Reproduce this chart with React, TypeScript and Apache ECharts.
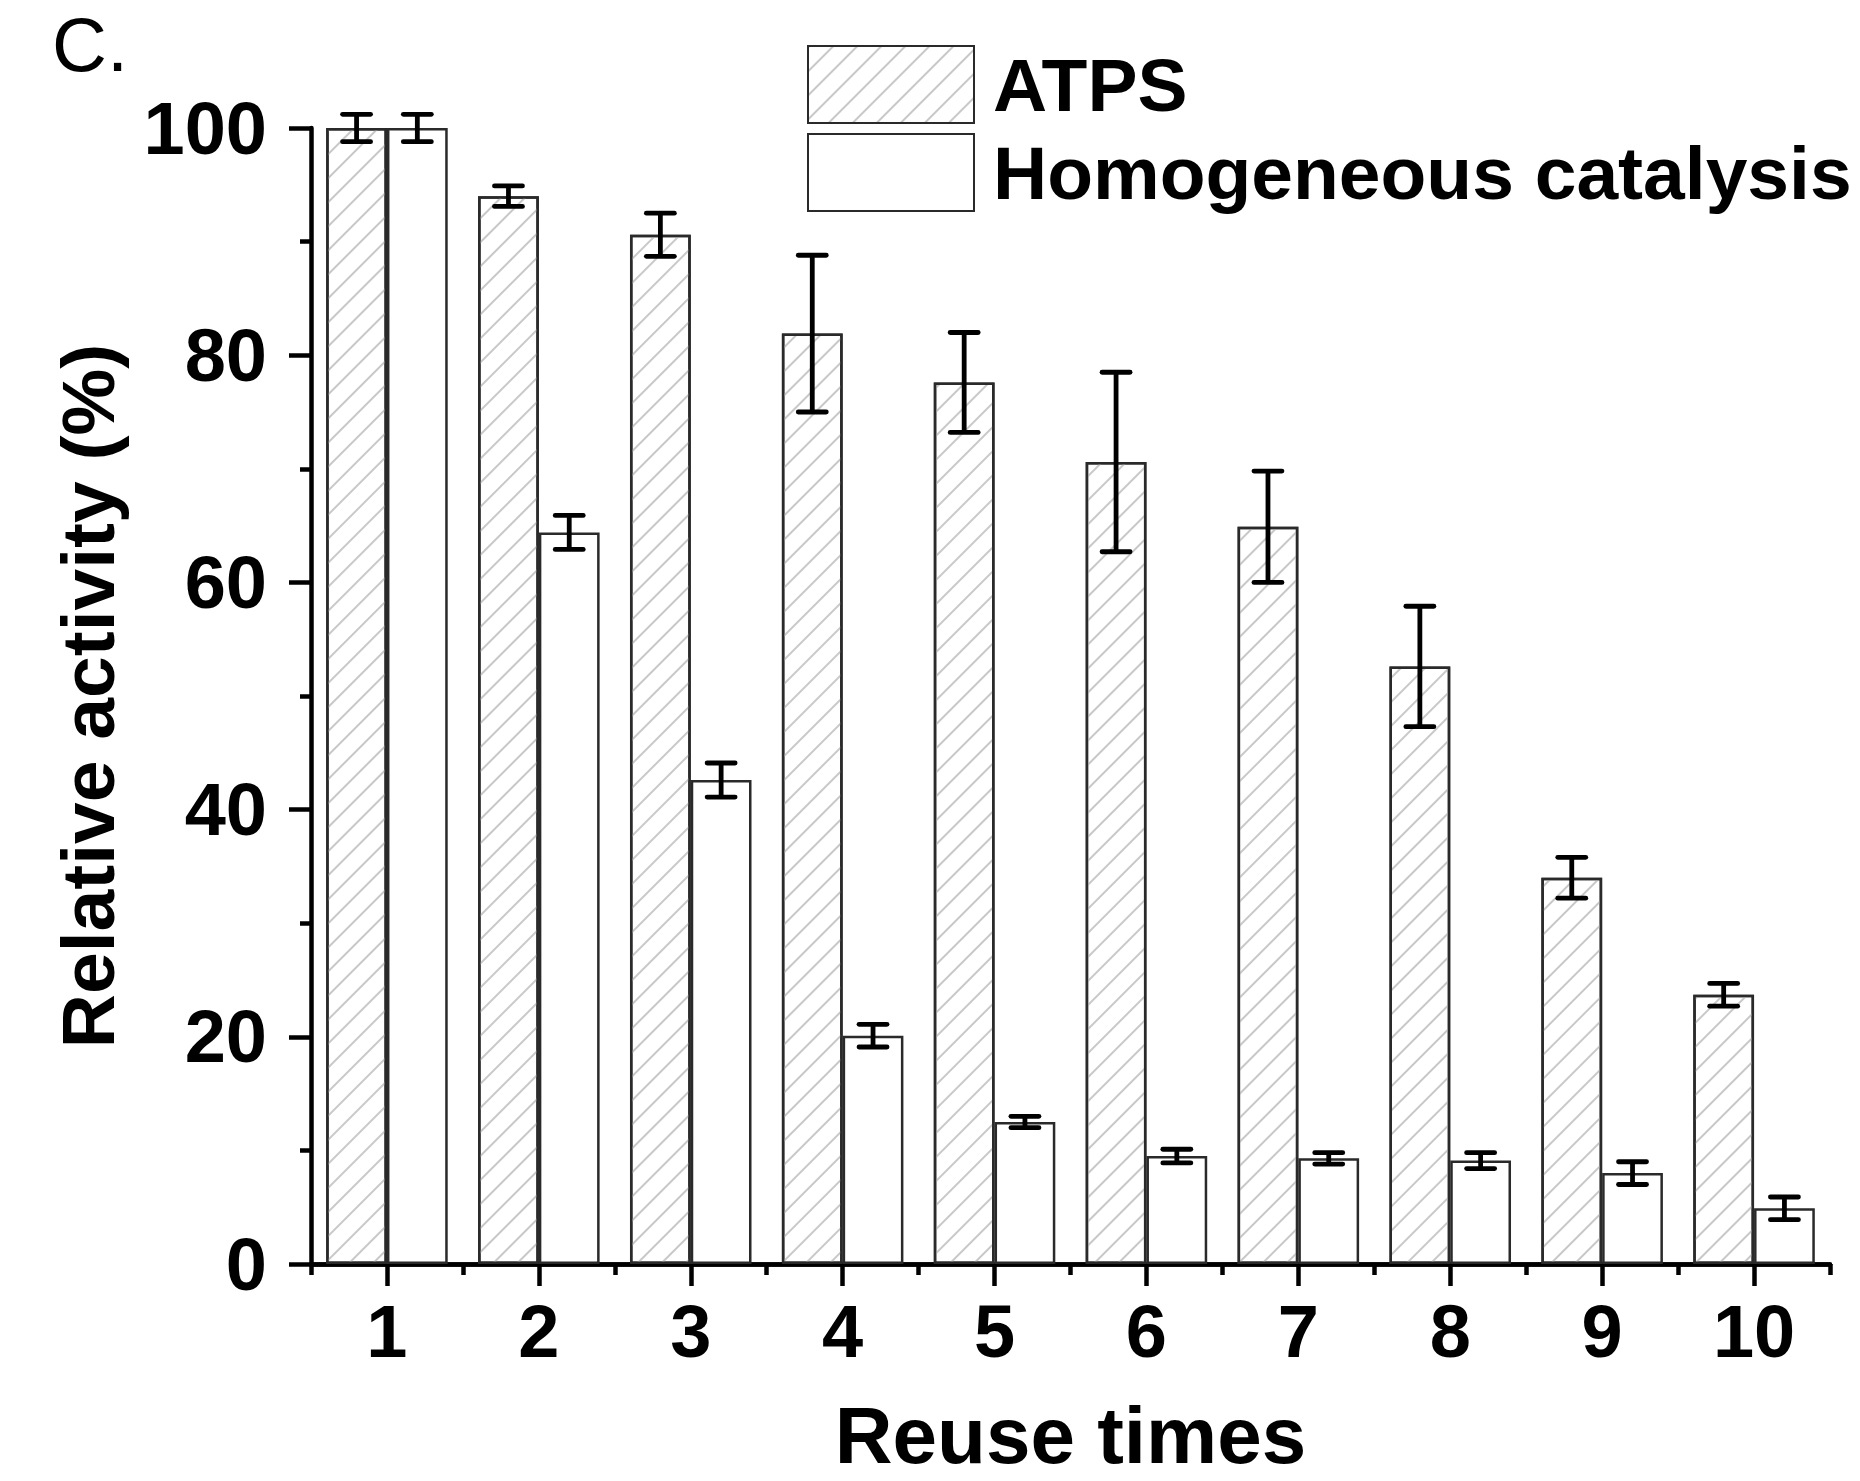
import React, { useEffect, useRef } from "react";
import * as echarts from "echarts";

const categories = ["1", "2", "3", "4", "5", "6", "7", "8", "9", "10"];
const seriesNames = ["ATPS", "Homogeneous catalysis"];
const atpsValues = [100, 94.0, 90.6, 81.9, 77.6, 70.6, 64.9, 52.6, 34.0, 23.7];
const atpsErrors = [1.2, 0.9, 1.9, 6.9, 4.4, 7.9, 4.9, 5.3, 1.8, 1.0];
const homoValues = [100, 64.4, 42.6, 20.1, 12.5, 9.5, 9.3, 9.1, 8.0, 4.9];
const homoErrors = [1.2, 1.5, 1.5, 1.0, 0.5, 0.6, 0.5, 0.7, 1.0, 1.0];
const panelLabel = "C.";
const xTitle = "Reuse times";
const yTitle = "Relative activity (%)";

const FONT = "'Liberation Sans', Arial, Helvetica, sans-serif";

function errorSeries(name: string, values: number[], errors: number[], offset: number) {
  return {
    type: "custom",
    name: name + " error",
    z: 10,
    silent: true,
    clip: false,
    data: values.map((v, i) => [i, v, errors[i]]),
    encode: { x: 0, y: 1 },
    renderItem: (params: any, api: any) => {
      const i = api.value(0);
      const v = api.value(1);
      const e = api.value(2);
      const band = api.size([1, 0])[0];
      const x = api.coord([i, v])[0] + offset * band;
      const yTop = api.coord([i, v + e])[1];
      const yBot = api.coord([i, v - e])[1];
      const half = 14;
      const st = { stroke: "#000", lineWidth: 4.8, lineCap: "round" };
      return {
        type: "group",
        children: [
          { type: "line", shape: { x1: x, y1: yTop, x2: x, y2: yBot }, style: { ...st, lineCap: "butt" } },
          { type: "line", shape: { x1: x - half, y1: yTop, x2: x + half, y2: yTop }, style: st },
          { type: "line", shape: { x1: x - half, y1: yBot, x2: x + half, y2: yBot }, style: st },
        ],
      };
    },
  };
}

export default function App() {
  const ref = useRef<HTMLDivElement>(null);
  useEffect(() => {
    if (!ref.current) return;
    const chart = echarts.init(ref.current, null, { renderer: "svg" });
    const axisLineStyle = { color: "#000", width: 4.5 };
    const labelStyle = { fontSize: 74, fontWeight: "bold", color: "#000", fontFamily: FONT };
    chart.setOption({
      animation: false,
      backgroundColor: "#fff",
      graphic: [
        {
          type: "text",
          left: 52,
          top: 6,
          style: { text: panelLabel, fontSize: 76, fontFamily: FONT, fill: "#000" },
        },
      ],
      legend: {
        data: seriesNames,
        orient: "vertical",
        left: 807,
        top: 45,
        itemWidth: 166,
        itemHeight: 77,
        itemGap: 9,
        icon: "rect",
        padding: 0,
        selectedMode: false,
        textStyle: { fontSize: 75, fontWeight: "bold", color: "#000", fontFamily: FONT, padding: [0, 0, 0, 14] },
      },
      grid: { left: 311, right: 30, top: 128, bottom: 217, containLabel: false, outerBoundsMode: "none" },
      xAxis: [
        {
          type: "category",
          data: categories,
          position: "bottom",
          name: xTitle,
          nameLocation: "middle",
          nameGap: 131,
          nameTextStyle: { fontSize: 80, fontWeight: "bold", color: "#000", fontFamily: FONT },
          axisLine: { show: true, lineStyle: axisLineStyle },
          axisTick: { show: true, alignWithLabel: true, length: 22, lineStyle: axisLineStyle },
          axisLabel: { ...labelStyle, margin: 30, interval: 0 },
          splitLine: { show: false },
        },
        {
          type: "category",
          data: categories,
          position: "bottom",
          offset: 0,
          axisLine: { show: true, lineStyle: axisLineStyle },
          axisTick: { show: true, length: 11, lineStyle: axisLineStyle },
          axisLabel: { show: false },
          splitLine: { show: false },
        },
      ],
      yAxis: {
        type: "value",
        min: 0,
        max: 100,
        interval: 20,
        name: yTitle,
        nameLocation: "middle",
        nameGap: 186,
        nameTextStyle: { fontSize: 75, fontWeight: "bold", color: "#000", fontFamily: FONT },
        axisLine: { show: true, lineStyle: axisLineStyle },
        axisTick: { show: true, length: 22, lineStyle: axisLineStyle },
        minorTick: { show: true, splitNumber: 2, length: 11, lineStyle: axisLineStyle },
        splitLine: { show: false },
        minorSplitLine: { show: false },
        axisLabel: { ...labelStyle, margin: 44 },
      },
      series: [
        {
          type: "bar",
          name: seriesNames[0],
          data: atpsValues,
          barGap: "0%",
          barCategoryGap: "20%",
          itemStyle: {
            color: "#fff",
            borderColor: "#2a2a2a",
            borderWidth: 2.5,
            decal: {
              symbol: "rect",
              color: "#c8c8c8",
              backgroundColor: "#fff",
              dashArrayX: [1, 0],
              dashArrayY: [1.6, 15],
              rotation: -Math.PI / 4,
            },
          },
        },
        {
          type: "bar",
          name: seriesNames[1],
          data: homoValues,
          barGap: "0%",
          barCategoryGap: "20%",
          itemStyle: { color: "#fff", borderColor: "#2a2a2a", borderWidth: 2.5 },
        },
        errorSeries(seriesNames[0], atpsValues, atpsErrors, -0.2),
        errorSeries(seriesNames[1], homoValues, homoErrors, 0.2),
      ],
    });
    return () => chart.dispose();
  }, []);
  return (
    <div
      ref={ref}
      style={{ position: "absolute", left: 0, top: 0, width: 1860, height: 1481 }}
    />
  );
}
